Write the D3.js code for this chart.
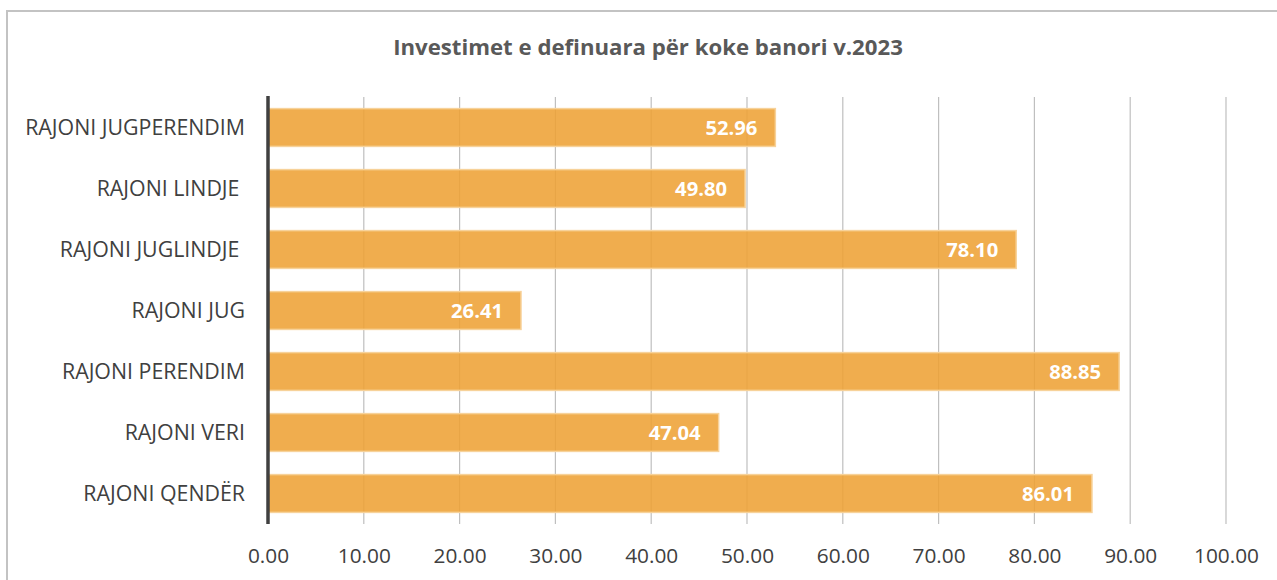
<!DOCTYPE html>
<html><head><meta charset="utf-8">
<script src="https://cdn.jsdelivr.net/npm/d3@7"></script>
<style>body{margin:0;background:#fff;} svg{display:block;}</style>
</head><body>
<svg id="c" width="1277" height="580"></svg>
<script>
const categories = ["RAJONI JUGPERENDIM","RAJONI LINDJE ","RAJONI JUGLINDJE ","RAJONI JUG","RAJONI PERENDIM","RAJONI VERI","RAJONI QENDËR"];
const values = [52.96, 49.80, 78.10, 26.41, 88.85, 47.04, 86.01];
const tickValues = [0,10,20,30,40,50,60,70,80,90,100];
const title = "Investimet e definuara për koke banori v.2023";

const svg = d3.select("#c");
const font = "'Open Sans', sans-serif";

function fitSize(text, weight, target){
  const t = svg.append("text").attr("font-family",font).attr("font-weight",weight).attr("font-size",20).text(text);
  const w = t.node().getComputedTextLength(); t.remove();
  return 20*target/w;
}
const titleSize = fitSize(title,"bold",510);
const catSize = fitSize("RAJONI JUGPERENDIM","normal",220);
const tickSize = fitSize("100.00","normal",65);
const lblSize = fitSize("86.01","bold",52);

// frame
svg.append("path").attr("d","M7,580 L7,11 L1277,11").attr("fill","none").attr("stroke","#c3c3c3").attr("stroke-width",2);

const x = d3.scaleLinear().domain([0,100]).range([268,1226]);
const y = d3.scaleBand().domain(categories).range([97,524]).paddingInner(0.38).paddingOuter(0.19);

svg.append("text").attr("x",648).attr("y",47).attr("dy","0.36em").attr("text-anchor","middle")
  .attr("font-family",font).attr("font-weight","bold").attr("font-size",titleSize).attr("fill","#595959").text(title);

// gridlines
svg.append("g").selectAll("line").data(tickValues.filter(d=>d>0)).join("line")
  .attr("x1",d=>x(d)).attr("x2",d=>x(d)).attr("y1",97).attr("y2",524)
  .attr("stroke","#bfbfbf").attr("stroke-width",1.2);

// bars
svg.append("g").selectAll("rect").data(values).join("rect")
  .attr("x",x(0)).attr("y",(d,i)=>y(categories[i]))
  .attr("width",d=>x(d)-x(0)).attr("height",y.bandwidth())
  .attr("fill","#eea236").attr("fill-opacity",0.88)
  .attr("stroke","#f7d29a").attr("stroke-width",1.5);

// data labels
svg.append("g").selectAll("text").data(values).join("text")
  .attr("x",d=>x(d)-18).attr("y",(d,i)=>y(categories[i])+y.bandwidth()/2)
  .attr("dy","0.36em").attr("text-anchor","end")
  .attr("font-family",font).attr("font-weight","bold").attr("font-size",lblSize).attr("fill","#fff")
  .text(d=>d.toFixed(2));

// y axis line
svg.append("line").attr("x1",268).attr("x2",268).attr("y1",96).attr("y2",524)
  .attr("stroke","#404040").attr("stroke-width",3.5);

// category labels
svg.append("g").selectAll("text").data(categories).join("text")
  .attr("x",245).attr("y",d=>y(d)+y.bandwidth()/2).attr("dy","0.36em")
  .attr("text-anchor","end").attr("xml:space","preserve").style("white-space","pre")
  .attr("font-family",font).attr("font-size",catSize).attr("fill","#404040").text(d=>d);

// x axis tick labels
const xa = d3.axisBottom(x).tickValues(tickValues).tickFormat(d=>d.toFixed(2)).tickSize(0).tickPadding(0);
const g = svg.append("g").attr("transform","translate(0,555)").call(xa);
g.select(".domain").remove();
g.selectAll("text").attr("dy","0.36em").attr("font-family",font).attr("font-size",tickSize).attr("fill","#404040");
</script>
</body></html>
